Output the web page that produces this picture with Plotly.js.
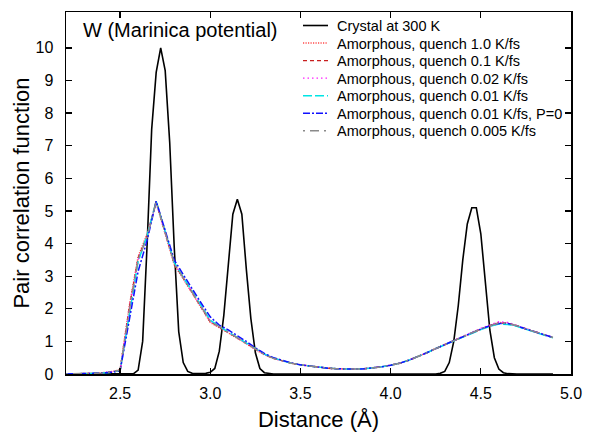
<!DOCTYPE html>
<html>
<head>
<meta charset="utf-8">
<script src="https://cdn.plot.ly/plotly-3.0.1.min.js"></script>
<style>
  html, body { margin: 0; padding: 0; background: #fff; }
  #plot { width: 593px; height: 433px; }
</style>
</head>
<body>
<div id="plot"></div>
<script>
// Crystal W at 300 K: pair correlation function g(r)
const crystalR = [2.2, 2.55, 2.575, 2.6, 2.625, 2.65, 2.675, 2.7, 2.725, 2.75, 2.775, 2.8, 2.825, 2.85, 2.875,
  2.9, 2.925, 2.95, 2.975, 3.0, 3.025, 3.05, 3.075, 3.1, 3.125, 3.15, 3.175, 3.2, 3.225, 3.25, 3.275, 3.3,
  3.325, 3.35, 4.25, 4.275, 4.3, 4.325, 4.35, 4.375, 4.4, 4.425, 4.45, 4.475, 4.5, 4.525, 4.55, 4.575, 4.6,
  4.625, 4.65, 4.7, 4.9];
const crystalG = [0, 0, 0.01, 0.12, 1.0, 4.0, 7.5, 9.25, 10.0, 9.3, 7.1, 3.9, 1.3, 0.35, 0.08,
  0.02, 0.01, 0.01, 0.02, 0.05, 0.17, 0.7, 1.8, 3.3, 4.9, 5.36, 4.9, 3.2, 1.7, 0.65, 0.17, 0.04,
  0.01, 0, 0, 0.02, 0.08, 0.35, 1.0, 2.1, 3.5, 4.6, 5.1, 5.1, 4.3, 2.8, 1.35, 0.5, 0.15,
  0.04, 0.01, 0, 0];

// Amorphous W, sampled every 0.05 Å from 2.2 to 4.9 Å
const amorphR = [2.20, 2.25, 2.30, 2.35, 2.40, 2.45, 2.50, 2.55, 2.60, 2.65, 2.70, 2.75, 2.80, 2.85, 2.90,
  2.95, 3.00, 3.05, 3.10, 3.15, 3.20, 3.25, 3.30, 3.35, 3.40, 3.45, 3.50, 3.55, 3.60, 3.65, 3.70, 3.75,
  3.80, 3.85, 3.90, 3.95, 4.00, 4.05, 4.10, 4.15, 4.20, 4.25, 4.30, 4.35, 4.40, 4.45, 4.50, 4.55, 4.60,
  4.65, 4.70, 4.75, 4.80, 4.85, 4.90];

const gQuench1p0 = [0.00, 0.00, 0.01, 0.02, 0.04, 0.07, 0.13, 2.05, 3.60, 4.30, 5.25, 4.32, 3.35, 2.92, 2.48,
  2.02, 1.58, 1.42, 1.26, 1.08, 0.93, 0.75, 0.59, 0.48, 0.40, 0.33, 0.28, 0.24, 0.20, 0.18, 0.16, 0.15,
  0.15, 0.16, 0.18, 0.22, 0.27, 0.33, 0.42, 0.53, 0.65, 0.78, 0.90, 1.03, 1.15, 1.27, 1.39, 1.49, 1.58,
  1.56, 1.48, 1.38, 1.30, 1.20, 1.12];
const gQuench0p1 = [0.00, 0.00, 0.01, 0.02, 0.03, 0.06, 0.12, 2.00, 3.55, 4.25, 5.30, 4.34, 3.38, 2.94, 2.50,
  2.04, 1.60, 1.44, 1.27, 1.10, 0.94, 0.75, 0.60, 0.48, 0.40, 0.33, 0.28, 0.24, 0.20, 0.18, 0.16, 0.15,
  0.15, 0.16, 0.18, 0.22, 0.27, 0.33, 0.42, 0.53, 0.65, 0.78, 0.90, 1.03, 1.15, 1.27, 1.38, 1.48, 1.57,
  1.55, 1.48, 1.38, 1.30, 1.20, 1.12];
const gQuench0p02 = [0.00, 0.00, 0.01, 0.02, 0.03, 0.06, 0.12, 1.95, 3.50, 4.22, 5.27, 4.35, 3.40, 2.95, 2.50,
  2.05, 1.62, 1.45, 1.28, 1.12, 0.95, 0.76, 0.60, 0.48, 0.40, 0.33, 0.28, 0.24, 0.20, 0.18, 0.16, 0.15,
  0.15, 0.16, 0.18, 0.22, 0.27, 0.33, 0.42, 0.53, 0.65, 0.78, 0.91, 1.04, 1.16, 1.28, 1.40, 1.50, 1.60,
  1.58, 1.49, 1.39, 1.30, 1.20, 1.12];
const gQuench0p01 = [0.00, 0.00, 0.01, 0.02, 0.03, 0.05, 0.11, 1.85, 3.45, 4.25, 5.30, 4.37, 3.42, 2.97, 2.52,
  2.08, 1.65, 1.46, 1.29, 1.13, 0.96, 0.77, 0.61, 0.49, 0.40, 0.33, 0.28, 0.24, 0.20, 0.18, 0.16, 0.15,
  0.15, 0.16, 0.18, 0.22, 0.27, 0.33, 0.42, 0.53, 0.65, 0.78, 0.90, 1.02, 1.14, 1.26, 1.36, 1.46, 1.53,
  1.52, 1.46, 1.37, 1.29, 1.19, 1.11];
const gQuench0p01P0 = [0.00, 0.00, 0.01, 0.02, 0.03, 0.05, 0.10, 1.60, 3.15, 4.10, 5.30, 4.40, 3.50, 3.05, 2.60,
  2.17, 1.75, 1.50, 1.35, 1.18, 1.00, 0.80, 0.63, 0.50, 0.41, 0.34, 0.28, 0.24, 0.20, 0.18, 0.16, 0.15,
  0.15, 0.16, 0.18, 0.22, 0.27, 0.33, 0.42, 0.53, 0.65, 0.78, 0.90, 1.03, 1.15, 1.27, 1.38, 1.48, 1.55,
  1.55, 1.48, 1.38, 1.30, 1.20, 1.12];
const gQuench0p005 = [0.00, 0.00, 0.01, 0.02, 0.03, 0.06, 0.12, 1.90, 3.50, 4.20, 5.28, 4.35, 3.40, 2.95, 2.50,
  2.05, 1.62, 1.45, 1.28, 1.12, 0.95, 0.76, 0.60, 0.48, 0.40, 0.33, 0.28, 0.24, 0.20, 0.18, 0.16, 0.15,
  0.15, 0.16, 0.18, 0.22, 0.27, 0.33, 0.42, 0.53, 0.65, 0.78, 0.90, 1.03, 1.15, 1.27, 1.38, 1.48, 1.56,
  1.55, 1.48, 1.38, 1.30, 1.20, 1.12];

const yTicks = [0, 1, 2, 3, 4, 5, 6, 7, 8, 9, 10];
const xTicks = [2.5, 3.0, 3.5, 4.0, 4.5, 5.0];

const seriesNames = [
  'Crystal at 300 K',
  'Amorphous, quench 1.0 K/fs',
  'Amorphous, quench 0.1 K/fs',
  'Amorphous, quench 0.02 K/fs',
  'Amorphous, quench 0.01 K/fs',
  'Amorphous, quench 0.01 K/fs, P=0',
  'Amorphous, quench 0.005 K/fs'
];
const seriesX = [crystalR, amorphR, amorphR, amorphR, amorphR, amorphR, amorphR];
const seriesY = [crystalG, gQuench1p0, gQuench0p1, gQuench0p02, gQuench0p01, gQuench0p01P0, gQuench0p005];
const seriesColor = ['#000000', '#ff4a4a', '#c81e1e', '#ff20ff', '#00e5e5', '#1010ff', '#8a8a8a'];
const seriesDash = ['solid', '1.2px,1.3px', '4px,3px', '1.5px,3px', '9px,3px', '7px,2px,2px,2px', '2px,5px,9px,5px'];
const seriesWidth = [1.6, 1.5, 1.4, 1.4, 1.5, 1.5, 1.5];

const FONT = 'Liberation Sans, Arial, Helvetica, sans-serif';

// plot-area geometry in pixels, used to place the key in paper units
const W = 593, H = 433;
const M = { l: 66, r: 22, t: 12, b: 59 };
const PW = W - M.l - M.r, PH = H - M.t - M.b;
const px2x = px => (px - M.l) / PW;
const px2y = py => (H - M.b - py) / PH;

const traces = seriesNames.map((name, i) => ({
  type: 'scatter',
  mode: 'lines',
  name: name,
  x: seriesX[i],
  y: seriesY[i],
  line: { color: seriesColor[i], dash: seriesDash[i], width: seriesWidth[i] },
  showlegend: false,
  hoverinfo: 'skip'
}));

// key: short line sample plus label per series
const keyTop = 25.5, keyStep = 17.55, keyX0 = 303, keyX1 = 328, keyText = 335;
const shapes = [];
const annotations = [];
seriesNames.forEach((name, i) => {
  const yc = keyTop + i * keyStep;
  shapes.push({
    type: 'line', xref: 'paper', yref: 'paper',
    x0: px2x(keyX0), x1: px2x(keyX1), y0: px2y(yc), y1: px2y(yc),
    line: { color: seriesColor[i], dash: seriesDash[i], width: seriesWidth[i] }
  });
  annotations.push({
    xref: 'paper', yref: 'paper', x: px2x(keyText), y: px2y(yc + 0.5),
    xanchor: 'left', yanchor: 'middle', showarrow: false,
    text: name, font: { family: FONT, size: 14.5, color: '#000' }
  });
});
annotations.push({
  xref: 'paper', yref: 'paper', x: px2x(81), y: px2y(30),
  xanchor: 'left', yanchor: 'middle', showarrow: false,
  text: 'W (Marinica potential)', font: { family: FONT, size: 20, color: '#000' }
});

const axisCommon = {
  showline: true, linecolor: '#000', linewidth: 1.5, mirror: 'ticks',
  ticks: 'inside', ticklen: 6, tickwidth: 1.3, tickcolor: '#000',
  showgrid: false, zeroline: false,
  tickfont: { family: FONT, size: 16, color: '#000' }
};

const layout = {
  width: W, height: H,
  margin: M,
  paper_bgcolor: '#fff', plot_bgcolor: '#fff',
  xaxis: Object.assign({}, axisCommon, {
    range: [2.2, 5.0], tickmode: 'array', tickvals: xTicks, ticktext: xTicks.map(v => v.toFixed(1)),
    ticklabelstandoff: 4,
    title: { text: 'Distance (Å)', font: { family: FONT, size: 22, color: '#000' }, standoff: 11 }
  }),
  yaxis: Object.assign({}, axisCommon, {
    range: [0, 11.1], tickmode: 'array', tickvals: yTicks, ticktext: yTicks.map(String),
    ticklabelstandoff: 8,
    title: { text: 'Pair correlation function', font: { family: FONT, size: 22, color: '#000' }, standoff: 0 }
  }),
  shapes: shapes,
  annotations: annotations
};

Plotly.newPlot('plot', traces, layout, { staticPlot: true, displayModeBar: false });
</script>
</body>
</html>
